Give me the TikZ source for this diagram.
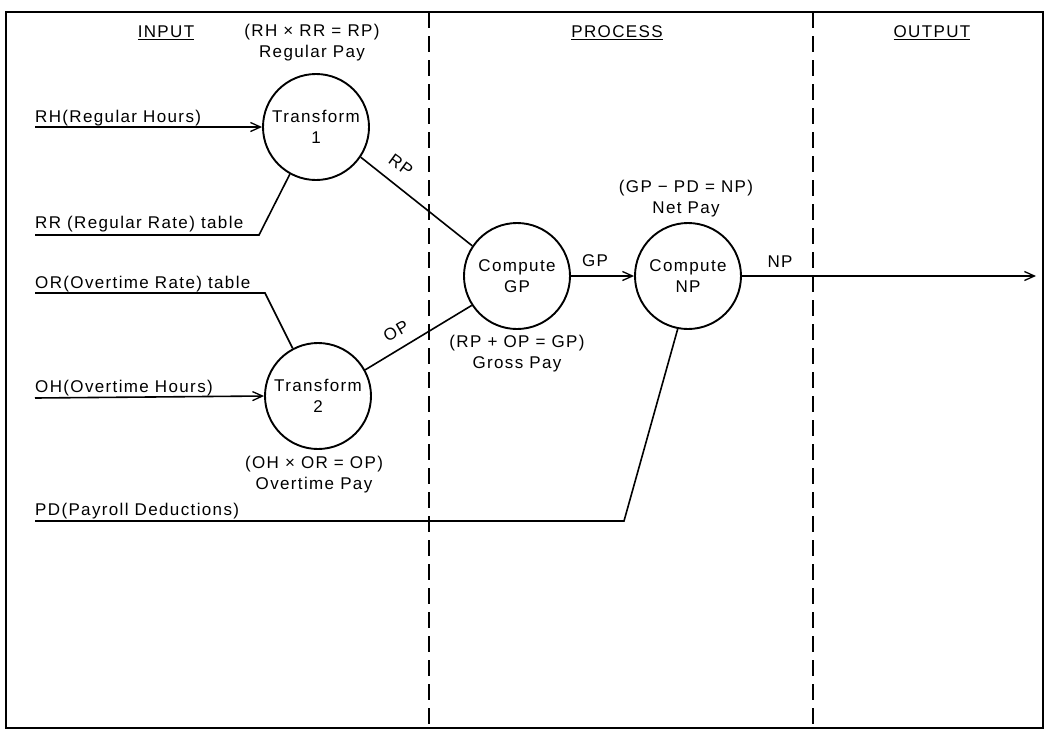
\documentclass[tikz,border=0pt]{standalone}
\usepackage{fontspec}
\setmainfont{Liberation Sans}
\newfontfamily\diagfont[LetterSpace=8]{Liberation Sans}
\newcommand\dfsz{\diagfont\fontsize{17}{21}\selectfont}
\usetikzlibrary{arrows.meta}
\begin{document}
\begin{tikzpicture}[x=1pt,y=-1pt,
  every node/.style={font=\dfsz, inner sep=0pt},
  proc/.style={draw, circle, line width=1.9pt, minimum size=106pt, align=center},
  flow/.style={line width=1.6pt},
  arr/.style={flow, -{Straight Barb[length=10pt,width=9pt,line width=1.3pt]}},
  sep/.style={line width=1.4pt, dash pattern=on 16pt off 8pt},
  eqn/.style={align=center},
  head/.style={}
]
\useasboundingbox (0,0) rectangle (1045,732);
\fill[white] (0,0) rectangle (1045,732);
% frame
\draw[line width=1.5pt] (6,12) rectangle (1043,728);
\draw[line width=2.4pt] (6,12) -- (1043,12);
% lane separators
\coordinate (s1t) at (429,12); \coordinate (s1b) at (429,728);
\coordinate (s2t) at (813,12); \coordinate (s2b) at (813,728);
\draw[sep] (s1t) -- (s1b);
\draw[sep] (s2t) -- (s2b);
% headings
\node[head] (hin) at (166,33) {\underline{INPUT}};
\node[head] (hpr) at (617,33) {\underline{PROCESS}};
\node[head] (hout) at (932,33) {\underline{OUTPUT}};
% processes
\node[proc] (t1) at (316,127) {Transform\\1};
\node[proc] (t2) at (318,396) {Transform\\2};
\node[proc] (cgp) at (517,276) {Compute\\GP};
\node[proc] (cnp) at (688,276) {Compute\\NP};
% equations
\node[eqn] (e1) at (312,43) {(RH × RR = RP)\\Regular Pay};
\node[eqn] (e2) at (314,475) {(OH × OR = OP)\\Overtime Pay};
\node[eqn] (e3) at (517,354) {(RP + OP = GP)\\Gross Pay};
\node[eqn] (e4) at (686,199) {(GP − PD = NP)\\Net Pay};
% external flow ends
\coordinate (rh0) at (35,127);
\coordinate (rr0) at (35,235); \coordinate (rr1) at (259,235);
\coordinate (or0) at (35,293); \coordinate (or1) at (265,293);
\coordinate (oh0) at (35,398);
\coordinate (pd0) at (35,521); \coordinate (pd1) at (624,521);
\coordinate (npend) at (1036,276);
\node[anchor=base west] (lrh) at (35,122) {RH(Regular Hours)};
\node[anchor=base west] (lrr) at (35,228) {RR (Regular Rate) table};
\node[anchor=base west] (lor) at (35,288) {OR(Overtime Rate) table};
\node[anchor=base west] (loh) at (35,392) {OH(Overtime Hours)};
\node[anchor=base west] (lpd) at (35,515) {PD(Payroll Deductions)};
\draw[arr] (rh0) -- (t1.west);
\draw[flow] (rr0) -- (rr1) -- (t1.-119);
\draw[flow] (or0) -- (or1) -- (t2.118);
\draw[arr] (oh0) -- (t2.west);
\draw[flow] (pd0) -- (pd1) -- (cnp.-101);
% internal flows
\draw[flow] (t1.-34) -- (cgp.146);
\draw[flow] (t2.29) -- (cgp.213);
\node[rotate=-36] (lrp) at (401,165) {RP};
\node[rotate=30] (lop) at (396,331) {OP};
\draw[arr] (cgp.east) -- (cnp.west);
\node (lgp) at (595,261) {GP};
\draw[arr] (cnp.east) -- (npend);
\node (lnp) at (780,262) {NP};
\end{tikzpicture}
\end{document}
